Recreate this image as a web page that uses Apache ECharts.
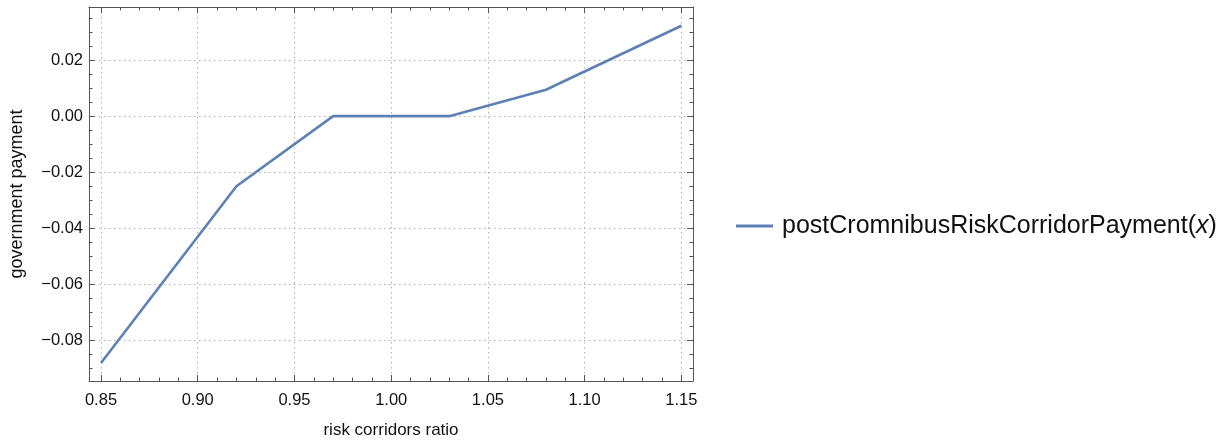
<!DOCTYPE html>
<html>
<head>
<meta charset="utf-8">
<script src="https://cdn.jsdelivr.net/npm/echarts@6/dist/echarts.min.js"></script>
<style>
html,body{margin:0;padding:0;background:#fff;}
#chart{width:1227px;height:441px;}
</style>
</head>
<body>
<div id="chart"></div>
<script>
const ratio = [0.85, 0.92, 0.97, 1.03, 1.08, 1.15];
const payment = [-0.088, -0.025, 0.0, 0.0, 0.0094, 0.0322];
const xMajorTicks = [0.85, 0.90, 0.95, 1.00, 1.05, 1.10, 1.15];
const xMinorTicks = [0.86, 0.87, 0.88, 0.89, 0.91, 0.92, 0.93, 0.94, 0.96, 0.97, 0.98, 0.99,
  1.01, 1.02, 1.03, 1.04, 1.06, 1.07, 1.08, 1.09, 1.11, 1.12, 1.13, 1.14];
const yMajorTicks = [-0.08, -0.06, -0.04, -0.02, 0.00, 0.02];
const yMinorTicks = [-0.09, -0.085, -0.075, -0.07, -0.065, -0.055, -0.05, -0.045, -0.035, -0.03, -0.025,
  -0.015, -0.01, -0.005, 0.005, 0.01, 0.015, 0.025, 0.03, 0.035];
const seriesName = 'postCromnibusRiskCorridorPayment(x)';

const X_MIN = 0.8438, X_MAX = 1.156;
const Y_MIN = -0.0944, Y_MAX = 0.0389;
const FRAME = '#555555';
const FONT = 'Liberation Sans, Arial, sans-serif';

function fmt(v) {
  const s = Math.abs(v).toFixed(2);
  return (v < -1e-9 ? '\u2212' : '') + s;
}

function xAxisDef(position, major, showLine, showLabel, split) {
  return {
    type: 'value', position: position, min: X_MIN, max: X_MAX, gridIndex: 0,
    axisLine: { show: showLine, onZero: false, lineStyle: { color: FRAME, width: 1 } },
    axisTick: { show: true, inside: true, length: major ? 6 : 3.5,
      customValues: major ? xMajorTicks : xMinorTicks, lineStyle: { color: FRAME, width: 1 } },
    axisLabel: { show: showLabel, customValues: xMajorTicks, formatter: fmt, margin: 11,
      color: '#111', fontSize: 16.5, fontFamily: FONT },
    splitLine: { show: split, lineStyle: { color: '#b0b0b0', width: 1, type: [1.5, 3.5] } },
    minorTick: { show: false }
  };
}
function yAxisDef(position, major, showLine, showLabel, split) {
  return {
    type: 'value', position: position, min: Y_MIN, max: Y_MAX, gridIndex: 0,
    axisLine: { show: showLine, onZero: false, lineStyle: { color: FRAME, width: 1 } },
    axisTick: { show: true, inside: true, length: major ? 6 : 3.5,
      customValues: major ? yMajorTicks : yMinorTicks, lineStyle: { color: FRAME, width: 1 } },
    axisLabel: { show: showLabel, customValues: yMajorTicks, formatter: fmt, margin: 6,
      color: '#111', fontSize: 16.5, fontFamily: FONT },
    splitLine: { show: split, lineStyle: { color: '#b0b0b0', width: 1, type: [1.5, 3.5] } },
    minorTick: { show: false }
  };
}

const xMain = xAxisDef('bottom', true, true, true, true);
xMain.name = 'risk corridors ratio';
xMain.nameLocation = 'middle';
xMain.nameGap = 41;
xMain.nameTextStyle = { color: '#111', fontSize: 17, fontFamily: FONT };
const yMain = yAxisDef('left', true, true, true, true);
yMain.name = 'government payment';
yMain.nameLocation = 'middle';
yMain.nameGap = 63;
yMain.nameTextStyle = { color: '#111', fontSize: 18, fontFamily: FONT };

const chart = echarts.init(document.getElementById('chart'), null, { renderer: 'canvas' });
chart.setOption({
  backgroundColor: '#ffffff',
  animation: false,
  grid: { left: 89, right: 534, top: 7, bottom: 60, containLabel: false, outerBoundsMode: 'none' },
  xAxis: [
    xMain,
    xAxisDef('bottom', false, false, false, false),
    xAxisDef('top', true, true, false, false),
    xAxisDef('top', false, false, false, false)
  ],
  yAxis: [
    yMain,
    yAxisDef('left', false, false, false, false),
    yAxisDef('right', true, true, false, false),
    yAxisDef('right', false, false, false, false)
  ],
  legend: {
    show: true,
    orient: 'vertical',
    left: 731,
    top: 206,
    padding: 5,
    icon: 'rect',
    itemWidth: 37,
    itemHeight: 3,
    itemGap: 14,
    itemStyle: { color: '#5E81B5' },
    data: [{ name: seriesName }],
    textStyle: {
      fontSize: 25, fontFamily: FONT, color: '#111', lineHeight: 30, padding: [0, 0, 0, 4],
      rich: { i: { fontStyle: 'italic', fontSize: 25, fontFamily: FONT, color: '#111' } }
    },
    formatter: function () { return 'postCromnibusRiskCorridorPayment({i|x})'; }
  },
  series: [{
    name: seriesName,
    type: 'line',
    xAxisIndex: 0,
    yAxisIndex: 0,
    symbol: 'none',
    showSymbol: false,
    data: ratio.map((r, i) => [r, payment[i]]),
    lineStyle: { color: '#5E81B5', width: 2.6 },
    itemStyle: { color: '#5E81B5' }
  }]
});
</script>
</body>
</html>
